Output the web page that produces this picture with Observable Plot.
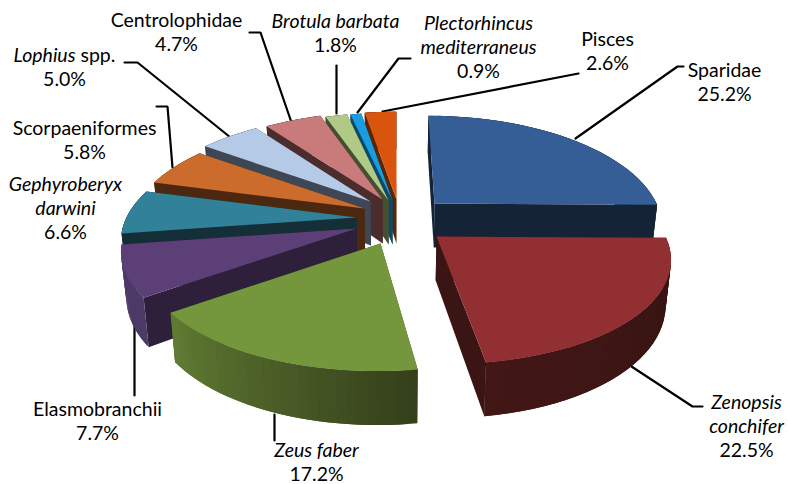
<!DOCTYPE html>
<html><head><meta charset="utf-8">
<style>html,body{margin:0;padding:0;background:#fff}svg{display:block}</style>
<script src="https://cdn.jsdelivr.net/npm/d3@7"></script>
<script src="https://cdn.jsdelivr.net/npm/@observablehq/plot@0.6"></script>
</head><body><div id="chart"></div>
<script>
const names = ["Sparidae","Zenopsis\nconchifer","Zeus faber","Elasmobranchii","Gephyroberyx\ndarwini","Scorpaeniformes","Lophius spp.","Centrolophidae","Brotula barbata","Plectorhincus\nmediterraneus","Pisces"];
const shares = [25.2,22.5,17.2,7.7,6.6,5.8,5.0,4.7,1.8,0.9,2.6];
const italic = [false,true,true,false,true,false,false,false,true,true,false];
const topColors = ["#355D96","#922F32","#74963C","#5D3F78","#318199","#CC6C2C","#B4CAE6","#C97B7B","#B1C986","#1B9CE0","#D9550D"];
const sideColors = ["#152337","#3A1513","#35431B","#2E203A","#152F38","#4D2810","#3E4753","#4C2D2E","#464F30","#0C4A69","#5A2606"];
const rimStart = ["#152337","#341312","#343F1A","#4D3A66","#152F38","#4D2810","#3E4753","#4C2D2E","#464F30","#0C4A69","#5A2606"];
const rimEnd = ["#152337","#421716","#617D34","#4D3A66","#152F38","#4D2810","#3E4753","#4C2D2E","#464F30","#0C4A69","#5A2606"];
// exploded centre and radius of every slice
const centreX = [434,436,380,356,356,364,370,382,388,392,396];
const centreY = [203,236,243,228,217,208,201,199,200,200,199];
const radii = [222,229,230,230,230,230,230,230,230,230,230];
// back-to-front drawing order
const paintOrder = [0,10,9,8,7,6,5,4,3,2,1];
// label layout
const labelX = [724,746,316,97,65,84,64,176,335,478,607];
const labelY = [81,425,461,420,207,139,66,31,32,46,50];
const leaders = [
  [[575,138],[677,66],[683,66]],
  [[631,366],[692,406],[702,406]],
  [[274,414],[274,440]],
  [[134,322],[134,395]],
  [[172,167],[167,106],[156,106]],
  [[230,137],[137,62],[124,62]],
  [[291,122],[260,32],[249,32]],
  [[336,113],[336,65]],
  [[357,112],[398,58],[410,58]],
  [[382,111],[578,73]]
];

const flat = 104, persp = 0.185, vanishX = 395, depth = 44, shrink = 0.98, steps = 30;
const scaleAt = Y => 1 / (1 - persp * Y);
function point(i, angle, r, low) {
  const X = r * Math.sin(angle), Y = -r * Math.cos(angle), s = scaleAt(Y);
  let x = vanishX + (centreX[i] - vanishX + radii[i] * X) * s;
  let y = centreY[i] + flat * Y * s;
  if (low) { x = vanishX + (x - vanishX) * shrink; y += depth * s; }
  return {x, y};
}
const ends = d3.cumsum(shares).map(v => v / 100 * 2 * Math.PI);
const polys = [];
let pid = 0;
function poly(points, fill) { const id = pid++; points.forEach(p => polys.push({id, x: p.x, y: p.y, fill})); }
for (const i of paintOrder) {
  const a0 = i ? ends[i - 1] : 0, a1 = ends[i];
  const angles = d3.range(steps + 1).map(k => a0 + (a1 - a0) * k / steps);
  for (const a of [a0, a1]) poly([point(i,0,0,false), point(i,a,1,false), point(i,a,1,true), point(i,0,0,true)], sideColors[i]);
  const mix = d3.interpolateRgb(rimStart[i], rimEnd[i]);
  // every strip overlaps the next one, so no seams show
  for (let k = 0; k < steps; k++) {
    const next = angles[Math.min(k + 2, steps)];
    poly([point(i,angles[k],1,false), point(i,next,1,false), point(i,next,1,true), point(i,angles[k],1,true)], mix((k + 0.5) / steps));
  }
  poly([point(i,0,0,false), ...angles.map(a => point(i,a,1,false))], topColors[i]);
}
const leaderRows = leaders.flatMap((l, id) => l.map(([x, y]) => ({id, x, y})));
const labels = names.map((n, i) => ({text: n + "\n" + shares[i].toFixed(1) + "%", x: labelX[i], y: labelY[i], it: italic[i]}));
const textOpts = {x: "x", y: "y", text: "text", fill: "#000", fontSize: 19.5, lineHeight: 1.23, lineAnchor: "middle", textAnchor: "middle"};
const plot = Plot.plot({
  width: 788, height: 484, margin: 0,
  x: {domain: [0, 788], range: [0, 788], axis: null},
  y: {domain: [0, 484], range: [0, 484], axis: null},
  color: {type: "identity"},
  style: {fontFamily: "Lato, sans-serif", background: "#fff"},
  marks: [
    Plot.line(leaderRows, {x: "x", y: "y", z: "id", stroke: "#000", strokeWidth: 2.2, curve: "linear", strokeLinejoin: "miter"}),
    Plot.line(polys, {x: "x", y: "y", z: "id", fill: "fill", stroke: "none", curve: "linear"}),
    Plot.text(labels.filter(d => !d.it), textOpts),
    Plot.text(labels.filter(d => d.it), {...textOpts, fontStyle: "italic"})
  ]
});
// percentages stay upright inside italic labels, and "Lophius" alone is italic
d3.select(plot).selectAll("text tspan, text").each(function () {
  const t = this.textContent;
  if (this.tagName === "tspan" && /%$/.test(t)) this.setAttribute("font-style", "normal");
  if (t === "Lophius spp.") {
    this.textContent = "";
    d3.select(this).append("tspan").attr("font-style", "italic").text("Lophius");
    d3.select(this).append("tspan").text(" spp.");
  }
});
document.getElementById("chart").append(plot);
</script></body></html>
